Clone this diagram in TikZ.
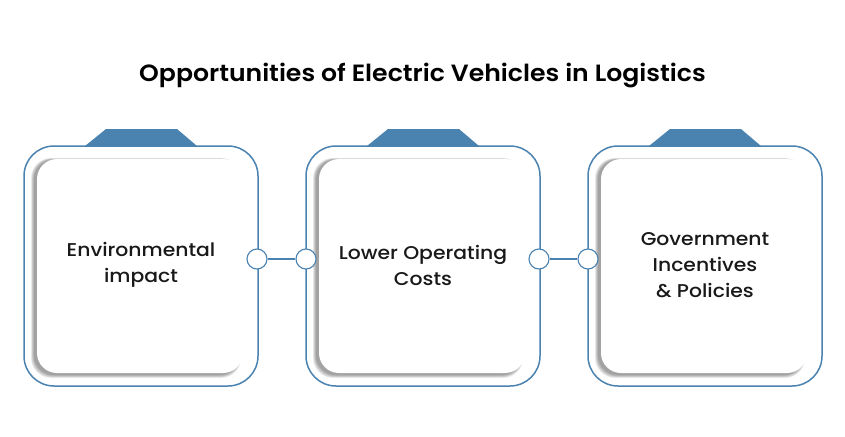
\documentclass[tikz,border=0pt]{standalone}
\usepackage{fontspec}
\setmainfont{Poppins}
\newfontfamily\titlefont{Poppins SemiBold}[FakeStretch=1.07]
\newfontfamily\labelfont{Poppins Medium}[FakeStretch=1.1]
\usetikzlibrary{calc}
\definecolor{eblue}{RGB}{74,130,176}
\tikzset{
  outerbox/.style={draw=eblue, line width=1.5pt, fill=white, rounded corners=30pt},
  innerbox/.style={fill=white, rounded corners=20pt},
  shadowlayer/.style={fill=black, fill opacity=0.07, rounded corners=20pt},
  tabshape/.style={fill=eblue},
  joint/.style={circle, draw=eblue, line width=1.1pt, fill=white, minimum size=20pt, inner sep=0pt},
  link/.style={draw=eblue, line width=1.1pt},
  lbl/.style={font=\labelfont\fontsize{18.5}{26}\selectfont, align=center, text=black!90},
}
\begin{document}
\begin{tikzpicture}[x=1pt,y=-1pt]
\useasboundingbox (0,0) rectangle (845,436);
\node[font=\titlefont\fontsize{23.5}{28}\selectfont] (title) at (422.5,75) {Opportunities of Electric Vehicles in Logistics};
\foreach \i/\x/\t in {1/24/{Environmental\\impact}, 2/306/{Lower Operating\\Costs}, 3/588/{Government\\Incentives\\\& Policies}} {
  \fill[tabshape] (\x+61,146) -- (\x+82,129) -- (\x+153,129) -- (\x+173,146) -- cycle;
  \draw[outerbox] (\x,146) rectangle (\x+234,386);
  \foreach \s in {0,1,2,3,4,5} {
    \fill[shadowlayer] (\x+13-6+\s*0.6,159-1+\s*0.3) rectangle (\x+219-2-\s*0.3,373+5-\s*0.6);
  }
  \fill[innerbox] (\x+13,159) rectangle (\x+219,373);
  \node[lbl] (box\i) at (\x+117,265) {\t};
}
\node[joint] (j1) at (257,259) {};
\node[joint] (j2) at (306,259) {};
\node[joint] (j3) at (539,259) {};
\node[joint] (j4) at (588,259) {};
\draw[link] (j1) -- (j2);
\draw[link] (j3) -- (j4);
\end{tikzpicture}
\end{document}
